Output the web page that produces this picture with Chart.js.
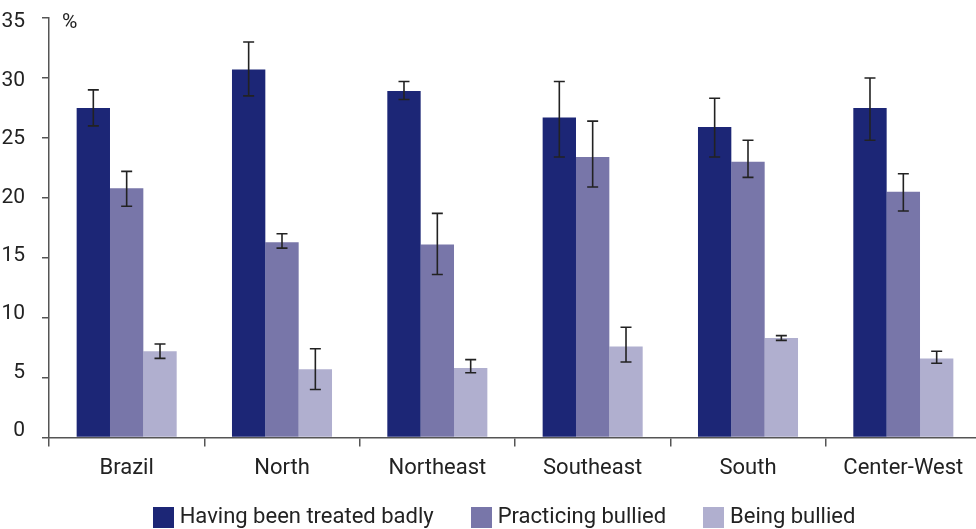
<!DOCTYPE html>
<html>
<head>
<meta charset="utf-8">
<script src="https://cdn.jsdelivr.net/npm/chart.js@4"></script>
<style>
  html, body { margin: 0; padding: 0; background: #fff; overflow: hidden; width: 976px; height: 529px; }
  canvas { display: block; }
</style>
</head>
<body>
<canvas id="c" width="984" height="590"></canvas>
<script>
// Regions of Brazil
const categories = ["Brazil", "North", "Northeast", "Southeast", "South", "Center-West"];

// Prevalence (%) with 95% confidence limits
const treatedBadly      = [27.5, 30.7, 28.9, 26.7, 25.9, 27.5];
const treatedBadlyLow   = [26.0, 28.5, 28.2, 23.4, 23.4, 24.8];
const treatedBadlyHigh  = [29.0, 33.0, 29.7, 29.7, 28.3, 30.0];

const practicing        = [20.8, 16.3, 16.1, 23.4, 23.0, 20.5];
const practicingLow     = [19.3, 15.8, 13.6, 20.9, 21.7, 18.9];
const practicingHigh    = [22.2, 17.0, 18.7, 26.4, 24.8, 22.0];

const beingBullied      = [7.2, 5.7, 5.8, 7.6, 8.3, 6.6];
const beingBulliedLow   = [6.6, 4.0, 5.4, 6.3, 8.1, 6.2];
const beingBulliedHigh  = [7.8, 7.4, 6.5, 9.2, 8.5, 7.2];

const yTicks = [0, 5, 10, 15, 20, 25, 30, 35];

const FONT = "Roboto, 'DejaVu Sans', sans-serif";
const AXIS = "#555555";
const TEXT = "#222222";
const COLORS = ["#1c2676", "#7876a9", "#b0afcf"];

// Solid square swatches used as legend markers
function swatch(color) {
  const c = document.createElement("canvas");
  c.width = 21; c.height = 21;
  const g = c.getContext("2d");
  g.fillStyle = color;
  g.fillRect(0, 0, 21, 21);
  return c;
}
const swatches = COLORS.map(swatch);

// Confidence interval whiskers drawn on top of each bar
const errorBars = {
  id: "errorBars",
  afterDatasetsDraw(chart) {
    const ctx = chart.ctx;
    const y = chart.scales.y;
    ctx.save();
    ctx.strokeStyle = "#222222";
    ctx.lineWidth = 1.6;
    chart.data.datasets.forEach((ds, di) => {
      const meta = chart.getDatasetMeta(di);
      meta.data.forEach((bar, i) => {
        const top = y.getPixelForValue(ds.high[i]);
        const bot = y.getPixelForValue(ds.low[i]);
        const x = bar.x;
        const cap = 5.5;
        ctx.beginPath();
        ctx.moveTo(x, top); ctx.lineTo(x, bot);
        ctx.moveTo(x - cap, top); ctx.lineTo(x + cap, top);
        ctx.moveTo(x - cap, bot); ctx.lineTo(x + cap, bot);
        ctx.stroke();
      });
    });
    ctx.restore();
  }
};

// Unit label beside the top of the value axis
const unitLabel = {
  id: "unitLabel",
  afterDraw(chart) {
    const ctx = chart.ctx;
    const y = chart.scales.y;
    ctx.save();
    ctx.fillStyle = TEXT;
    ctx.font = "21px " + FONT;
    ctx.textAlign = "left";
    ctx.textBaseline = "middle";
    ctx.fillText("%", chart.chartArea.left + 13, y.getPixelForValue(35) + 4.5);
    ctx.restore();
  }
};

// Place the legend row just under the category labels
const legendPlacement = {
  id: "legendPlacement",
  afterLayout(chart) {
    const lg = chart.legend;
    lg.left += 16;
    lg.right += 16;
    lg.top = 464.5;
  }
};

new Chart(document.getElementById("c"), {
  type: "bar",
  data: {
    labels: categories,
    datasets: [
      { label: "Having been treated badly", data: treatedBadly, low: treatedBadlyLow, high: treatedBadlyHigh, backgroundColor: COLORS[0] },
      { label: "Practicing bullied", data: practicing, low: practicingLow, high: practicingHigh, backgroundColor: COLORS[1] },
      { label: "Being bullied", data: beingBullied, low: beingBulliedLow, high: beingBulliedHigh, backgroundColor: COLORS[2] }
    ]
  },
  options: {
    responsive: false,
    animation: false,
    events: [],
    layout: { padding: { left: 0, right: 3, top: 18, bottom: 0 } },
    datasets: { bar: { categoryPercentage: 0.644, barPercentage: 1.0 } },
    scales: {
      x: {
        grid: { drawOnChartArea: false, drawTicks: true, tickLength: 9, color: AXIS, lineWidth: 1.5, offset: true },
        border: { display: true, color: AXIS, width: 1.5 },
        ticks: { color: TEXT, font: { family: FONT, size: 22 }, padding: 9, maxRotation: 0 },
        afterFit(scale) { scale.height = 78.5; }
      },
      // value axis: line and tick marks
      y: {
        position: "left",
        weight: 0,
        min: 0, max: 35,
        afterBuildTicks(scale) { scale.ticks = yTicks.map(v => ({ value: v })); },
        grid: { drawOnChartArea: false, drawTicks: true, tickLength: 7, color: AXIS, lineWidth: 1.5 },
        border: { display: true, color: AXIS, width: 1.5 },
        ticks: { display: false },
        afterFit(scale) { scale.width = 15; }
      },
      // value axis: numeric labels, set slightly tighter than the tick marks
      yLabels: {
        type: "linear",
        position: "left",
        weight: 1,
        min: -0.557, max: 35.343,
        afterBuildTicks(scale) { scale.ticks = yTicks.map(v => ({ value: v })); },
        grid: { display: false },
        border: { display: false },
        ticks: { color: TEXT, font: { family: FONT, size: 21 }, padding: 1 },
        afterFit(scale) { scale.width = 34; }
      }
    },
    plugins: {
      legend: {
        position: "bottom",
        labels: {
          color: TEXT,
          font: { family: FONT, size: 22 },
          usePointStyle: true,
          pointStyleWidth: 11,
          boxHeight: 21,
          padding: 42,
          generateLabels(chart) {
            const items = Chart.defaults.plugins.legend.labels.generateLabels(chart);
            items.forEach((it, i) => { it.pointStyle = swatches[i]; });
            return items;
          }
        }
      },
      tooltip: { enabled: false }
    }
  },
  plugins: [errorBars, unitLabel, legendPlacement]
});
</script>
</body>
</html>
